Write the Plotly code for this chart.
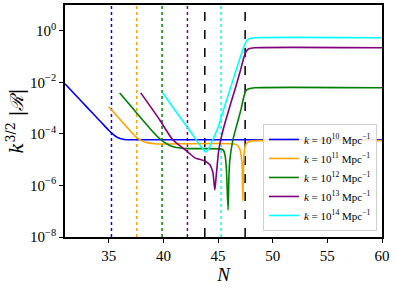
import plotly.graph_objects as go

# ---- data (N, log10 of k^{3/2}|R|) ----
labels = ["10", "11", "12", "13", "14"]
colors = ["blue", "orange", "green", "purple", "cyan"]

N_k10 = [31.0, 32.0, 33.0, 34.0, 34.6, 35.0, 35.4, 35.8, 36.3, 37.0, 60.0]
L_k10 = [-2.06, -2.51, -2.96, -3.41, -3.68, -3.86, -4.02, -4.14, -4.21, -4.23, -4.23]

N_k11 = [35.0, 36.0, 37.0, 37.5, 38.0, 38.5, 39.2, 40.0, 46.5, 46.8, 47.0, 47.1, 47.2, 47.27,
         47.33, 47.4, 47.5, 47.7, 48.0, 48.5, 60.0]
L_k11 = [-2.95, -3.42, -3.9, -4.12, -4.26, -4.34, -4.38, -4.39, -4.39, -4.45, -4.6, -4.8, -5.2, -6.6,
         -5.2, -4.7, -4.45, -4.33, -4.28, -4.26, -4.26]

N_k12 = [36.0, 37.0, 38.0, 38.75, 39.4, 40.0, 40.6, 41.2, 42.0, 45.2, 45.47, 45.65, 45.77, 45.92,
         46.0, 46.08, 46.36, 46.72, 47.09, 47.36, 47.55, 47.82, 48.37, 60.0]
L_k12 = [-2.41, -2.91, -3.41, -3.78, -4.08, -4.30, -4.45, -4.53, -4.57, -4.58, -4.62, -4.85, -5.4, -6.95,
         -5.6, -5.01, -4.23, -3.65, -3.07, -2.56, -2.33, -2.25, -2.21, -2.21]

N_k13 = [37.93, 39.67, 40.86, 42.23, 42.88, 43.79, 44.25, 44.52, 44.71, 44.84, 45.07, 45.35, 45.71,
         46.54, 46.99, 47.36, 47.55, 47.82, 48.37, 60.0]
L_k13 = [-2.41, -3.46, -4.23, -4.70, -4.93, -5.05, -5.20, -5.48, -6.17, -5.59, -4.62, -4.04, -3.46,
         -2.29, -1.63, -1.05, -0.82, -0.70, -0.66, -0.66]

N_k14 = [39.95, 41.04, 42.42, 43.33, 43.70, 43.88, 44.07, 44.43, 44.98, 45.62, 46.26, 46.90, 47.27,
         47.55, 47.82, 48.37, 60.0]
L_k14 = [-2.41, -3.07, -3.88, -4.43, -4.62, -4.70, -4.62, -4.31, -3.77, -2.91, -2.06, -1.20, -0.74,
         -0.43, -0.31, -0.27, -0.27]

# horizon-crossing markers (dotted) and transition markers (dashed)
N_cross = [35.25, 37.56, 39.88, 42.2, 45.28]
N_dashed = [43.79, 47.48]

x_ticks = [35, 40, 45, 50, 55, 60]
y_tickvals = [1e0, 1e-2, 1e-4, 1e-6, 1e-8]
y_ticktext = ["10<sup>0</sup>", "10<sup>−2</sup>", "10<sup>−4</sup>", "10<sup>−6</sup>", "10<sup>−8</sup>"]

series_N = [N_k10, N_k11, N_k12, N_k13, N_k14]
series_L = [L_k10, L_k11, L_k12, L_k13, L_k14]

FONT = "Liberation Serif"

fig = go.Figure()

for xv, c in zip(N_cross, colors):
    fig.add_shape(type="line", xref="x", yref="paper", x0=xv, x1=xv, y0=0, y1=1,
                  line=dict(color=c, width=1.5, dash="dot"), layer="below")
for xv in N_dashed:
    fig.add_shape(type="line", xref="x", yref="paper", x0=xv, x1=xv, y0=0, y1=1,
                  line=dict(color="black", width=1.5, dash="dash"), layer="below")

for lab, c, Ns, Ls in zip(labels, colors, series_N, series_L):
    fig.add_trace(go.Scatter(
        x=Ns, y=[10 ** v for v in Ls], mode="lines",
        line=dict(color=c, width=1.6, shape="spline", smoothing=0.6),
        name=f"<i>k</i> = 10<sup>{lab}</sup> Mpc<sup>−1</sup>",
    ))

fig.update_layout(
    width=395, height=287,
    margin=dict(l=65, r=13, t=5, b=50),
    paper_bgcolor="white", plot_bgcolor="white",
    font=dict(family=FONT, size=15, color="black"),
    showlegend=True,
    legend=dict(x=0.984, y=0.026, xanchor="right", yanchor="bottom",
                bgcolor="rgba(255,255,255,0.85)", bordercolor="#d0d0d0", borderwidth=1,
                font=dict(family=FONT, size=11), tracegroupgap=0, itemwidth=30),
    hovermode=False,
)
fig.update_xaxes(range=[31, 60], tickvals=x_ticks, showgrid=False, zeroline=False,
                 automargin=False,
                 showline=True, linecolor="black", linewidth=1.5, mirror=True,
                 ticks="outside", ticklen=4, tickcolor="black",
                 title=dict(text="<i>N</i>", font=dict(size=19), standoff=0))
fig.update_yaxes(type="log", range=[-8, 1], tickvals=y_tickvals, ticktext=y_ticktext,
                 showgrid=False, zeroline=False, automargin=False,
                 showline=True, linecolor="black", linewidth=1.5, mirror=True,
                 ticks="outside", ticklen=4, tickcolor="black",
                 title=dict(text="<i>k</i><sup>3/2</sup> |<i>ℛ</i>|",
                            font=dict(size=18, family="DejaVu Serif"), standoff=2))

fig.write_html("out.html", config={"displayModeBar": False},
               post_script="document.body.style.margin='0';document.body.style.padding='0';")
